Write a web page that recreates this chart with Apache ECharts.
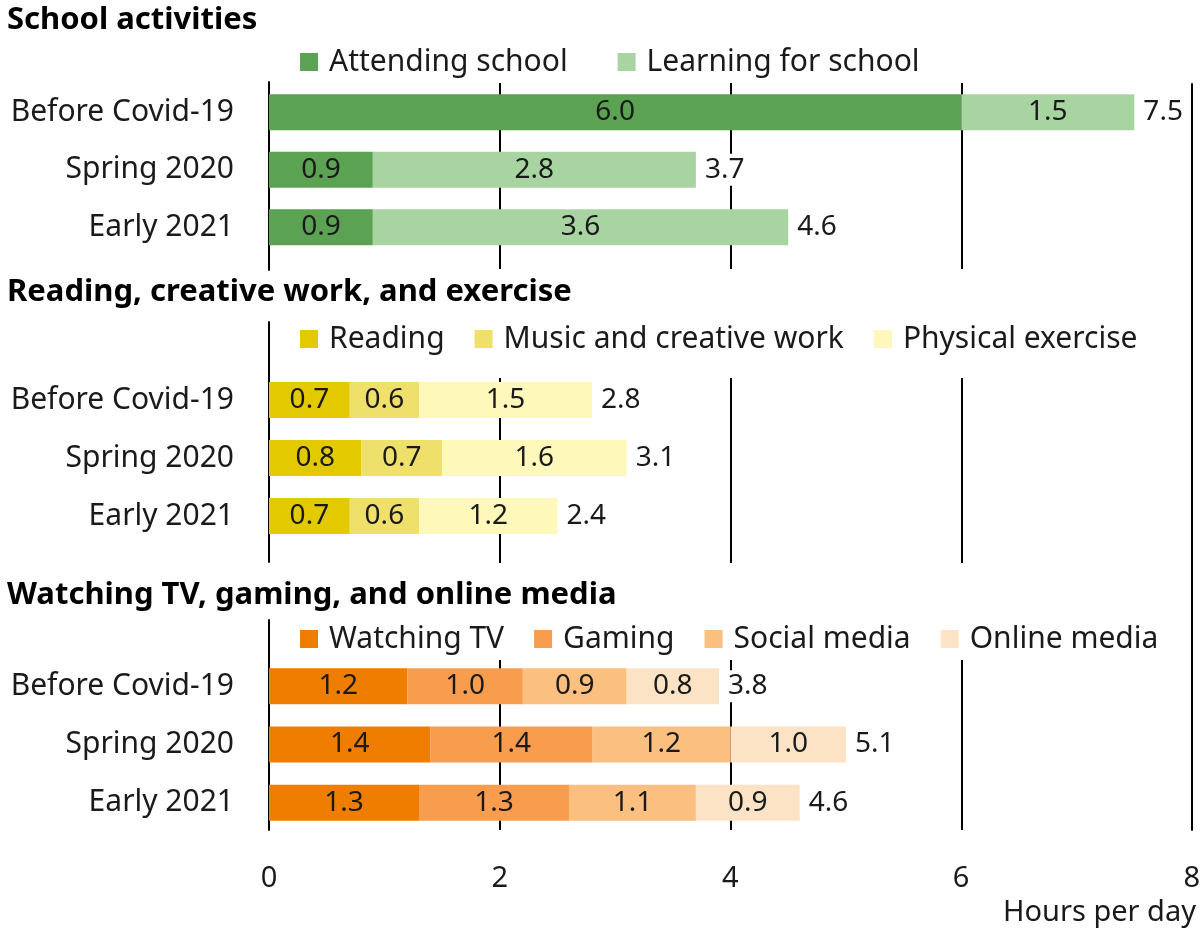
<!DOCTYPE html>
<html>
<head>
<meta charset="utf-8">
<script src="https://cdn.jsdelivr.net/npm/echarts@6/dist/echarts.min.js"></script>
<style>
  html, body { margin: 0; padding: 0; background: #fff; }
  #chart { width: 1203px; height: 930px; }
</style>
</head>
<body>
<div id="chart"></div>
<script>
// data
const years = ['Before Covid-19', 'Spring 2020', 'Early 2021'];

const schoolNames = ['Attending school', 'Learning for school'];
const attending = [6.0, 0.9, 0.9];
const learning = [1.5, 2.8, 3.6];
const schoolTotals = [7.5, 3.7, 4.6];

const creativeNames = ['Reading', 'Music and creative work', 'Physical exercise'];
const reading = [0.7, 0.8, 0.7];
const music = [0.6, 0.7, 0.6];
const exercise = [1.5, 1.6, 1.2];
const creativeTotals = [2.8, 3.1, 2.4];

const mediaNames = ['Watching TV', 'Gaming', 'Social media', 'Online media'];
const tv = [1.2, 1.4, 1.3];
const gaming = [1.0, 1.4, 1.3];
const social = [0.9, 1.2, 1.1];
const online = [0.8, 1.0, 0.9];
const mediaTotals = [3.8, 5.1, 4.6];

const xTicks = [0, 2, 4, 6, 8];

const FONT = 'Noto Sans';
const INK = '#1a1a1a';
const H = 930;

const panels = [
  {
    title: 'School activities', titleTop: 0, legendTop: 42, legendGap: 50,
    zero: [82, 270], lines: [83, 269], bars: [83.5, 256],
    names: schoolNames, values: [attending, learning], totals: schoolTotals,
    colors: ['#5ba253', '#a8d4a1']
  },
  {
    title: 'Reading, creative work, and exercise', titleTop: 272, legendTop: 319, legendGap: 30,
    zero: [322, 562], lines: [378, 563], bars: [371, 545],
    names: creativeNames, values: [reading, music, exercise], totals: creativeTotals,
    colors: ['#e2c900', '#eee06a', '#fff8bb']
  },
  {
    title: 'Watching TV, gaming, and online media', titleTop: 575, legendTop: 619, legendGap: 30,
    zero: [620, 830], lines: [660, 830], bars: [657, 832],
    names: mediaNames, values: [tv, gaming, social, online], totals: mediaTotals,
    colors: ['#ef7d00', '#f89c4e', '#fbbf80', '#fde3c5']
  }
];

const grid = [], xAxis = [], yAxis = [], series = [], title = [], legend = [];
const black = { color: '#000', width: 2 };

// global grid: bottom labels and the line at 8
grid.push({ left: 269, right: 11, top: 84, bottom: H - 830 });
xAxis.push({
  gridIndex: 0, type: 'value', min: xTicks[0], max: xTicks[xTicks.length - 1], interval: 2,
  axisLine: { show: false }, axisTick: { show: false }, splitLine: { show: false },
  axisLabel: { fontFamily: FONT, fontSize: 29, color: INK, margin: 34 }
});
yAxis.push({
  gridIndex: 0, type: 'value', min: 0, max: 1, position: 'right',
  axisLine: { show: true, onZero: false, lineStyle: black },
  axisTick: { show: false }, axisLabel: { show: false }, splitLine: { show: false }
});

panels.forEach((p, i) => {
  title.push({
    text: p.title, left: 2, top: p.titleTop,
    textStyle: { fontFamily: FONT, fontWeight: 'bold', fontSize: 31, color: '#000' }
  });
  legend.push({
    data: p.names, left: 295, top: p.legendTop, itemWidth: 18, itemHeight: 18,
    itemGap: p.legendGap, icon: 'rect',
    textStyle: { fontFamily: FONT, fontSize: 30, color: INK, padding: [0, 0, 0, 6] }
  });

  // zero line
  let g = grid.length;
  grid.push({ left: 269, right: 11, top: p.zero[0], bottom: H - p.zero[1] });
  xAxis.push({ gridIndex: g, type: 'value', min: 0, max: 8, show: false });
  yAxis.push({
    gridIndex: g, type: 'value', min: 0, max: 1,
    axisLine: { show: true, lineStyle: black },
    axisTick: { show: false }, axisLabel: { show: false }, splitLine: { show: false }
  });

  // vertical grid lines at 2, 4, 6
  g = grid.length;
  grid.push({ left: 269, right: 11, top: p.lines[0], bottom: H - p.lines[1] });
  xAxis.push({
    gridIndex: g, type: 'value', min: 0, max: 8, interval: 2,
    axisLine: { show: false }, axisTick: { show: false }, axisLabel: { show: false },
    splitLine: { show: true, showMinLine: false, showMaxLine: false, lineStyle: black }
  });
  yAxis.push({ gridIndex: g, type: 'value', min: 0, max: 1, show: false });

  // bars
  g = grid.length;
  grid.push({ left: 269, right: 11, top: p.bars[0], bottom: H - p.bars[1] });
  xAxis.push({ gridIndex: g, type: 'value', min: 0, max: 8, show: false });
  yAxis.push({
    gridIndex: g, type: 'category', data: years, inverse: true,
    axisLine: { show: false }, axisTick: { show: false },
    axisLabel: { fontFamily: FONT, fontSize: 30, color: INK, margin: 35 }
  });

  p.values.forEach((vals, k) => {
    series.push({
      name: p.names[k], type: 'bar', stack: 'panel' + i,
      xAxisIndex: g, yAxisIndex: g, barWidth: 36,
      itemStyle: { color: p.colors[k] },
      label: {
        show: true, position: 'inside', color: INK,
        fontFamily: FONT, fontSize: 28,
        formatter: d => d.value.toFixed(1)
      },
      data: vals
    });
  });

  // totals at the end of each bar
  const ends = years.map((_, j) => [p.values.reduce((s, v) => s + v[j], 0), j]);
  series.push({
    type: 'scatter', xAxisIndex: g, yAxisIndex: g, symbolSize: 0.1, silent: true,
    itemStyle: { color: '#fff', opacity: 1 },
    label: {
      show: true, position: 'right', distance: 5, color: INK,
      fontFamily: FONT, fontSize: 28, backgroundColor: '#fff', padding: [2, 4],
      formatter: d => p.totals[d.dataIndex].toFixed(1)
    },
    data: ends, z: 5
  });
});

title.push({
  text: 'Hours per day', right: 2, top: 893,
  textStyle: { fontFamily: FONT, fontWeight: 'normal', fontSize: 29, color: INK }
});

const chart = echarts.init(document.getElementById('chart'));
chart.setOption({
  animation: false,
  backgroundColor: '#fff',
  title, legend, grid, xAxis, yAxis, series
});
</script>
</body>
</html>
